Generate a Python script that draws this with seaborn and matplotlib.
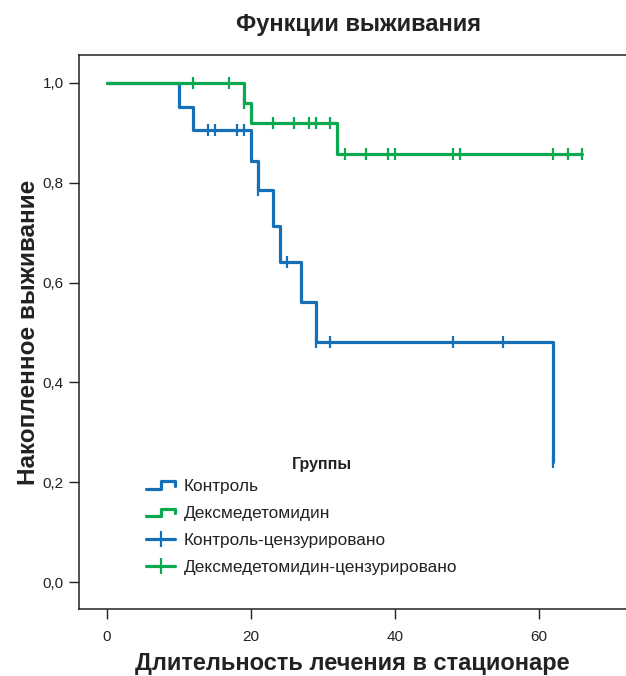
import numpy as np
import pandas as pd
import matplotlib
matplotlib.use("Agg")
import matplotlib.pyplot as plt
import seaborn as sns
from matplotlib.lines import Line2D
from matplotlib.legend_handler import HandlerBase
from matplotlib.ticker import FuncFormatter

# Kaplan-Meier step values
ctrl_time = [0, 10, 12, 20, 21, 23, 24, 27, 29, 62]
ctrl_surv = [1.0, 0.952, 0.905, 0.844, 0.786, 0.714, 0.641, 0.561, 0.480, 0.240]
ctrl_cens = [14, 15, 18, 19, 21, 25, 29, 31, 48, 55, 62]

dex_time = [0, 19, 20, 32]
dex_surv = [1.0, 0.959, 0.919, 0.857]
dex_cens = [12, 17, 19, 23, 26, 28, 29, 31, 33, 36, 39, 40, 48, 49, 62, 64, 66]

groups = ["Контроль", "Дексмедетомидин"]
colors = {"Контроль": "#1570b8", "Дексмедетомидин": "#0aa84f"}


def step_value(times, surv, t):
    idx = np.searchsorted(times, t, side="right") - 1
    return surv[idx]


# build long tables for seaborn
line_rows, cens_rows = [], []
for g, tt, ss, cc in [(groups[0], ctrl_time, ctrl_surv, ctrl_cens),
                      (groups[1], dex_time, dex_surv, dex_cens)]:
    for t, s in zip(tt, ss):
        line_rows.append((g, t, s))
    if max(cc) > tt[-1]:
        line_rows.append((g, max(cc), ss[-1]))
    for t in cc:
        cens_rows.append((g, t, step_value(tt, ss, t)))
lines_df = pd.DataFrame(line_rows, columns=["group", "time", "surv"])
cens_df = pd.DataFrame(cens_rows, columns=["group", "time", "surv"])

sns.set_style("ticks")
plt.rcParams["font.family"] = ["Liberation Sans", "DejaVu Sans"]

fig = plt.figure(figsize=(6.26, 6.76), dpi=100)
ax = fig.add_axes([79 / 626, 1 - 609 / 676, 1 - 79 / 626, (609 - 55) / 676])

sns.lineplot(data=lines_df, x="time", y="surv", hue="group", palette=colors,
             drawstyle="steps-post", estimator=None, sort=False,
             linewidth=2.3, legend=False, ax=ax)
for g in groups:
    sub = cens_df[cens_df["group"] == g]
    ax.plot(sub["time"], sub["surv"], linestyle="none", marker="|",
            markersize=9, markeredgewidth=1.6, color=colors[g])

ax.set_xlim(-3.9, 72.1)
ax.set_ylim(-0.054, 1.056)
ax.set_xticks([0, 20, 40, 60])
ax.set_yticks([0, 0.2, 0.4, 0.6, 0.8, 1.0])
ax.yaxis.set_major_formatter(FuncFormatter(lambda v, p: f"{v:.1f}".replace(".", ",")))
ax.tick_params(length=7, width=1, labelsize=11, colors="#222222")
ax.tick_params(axis="x", pad=8)
ax.tick_params(axis="y", pad=4)
for side in ["left", "bottom", "top"]:
    ax.spines[side].set_linewidth(1.1)
    ax.spines[side].set_color("#222222")
ax.spines["right"].set_visible(False)

ax.set_xlabel("Длительность лечения в стационаре", fontsize=17, fontweight="bold",
              labelpad=6, color="#222222")
ax.set_ylabel("Накопленное выживание", fontsize=17.5, fontweight="bold",
              labelpad=2, color="#222222")
fig.text(359 / 626, 1 - 24 / 676, "Функции выживания", fontsize=17,
         fontweight="bold", ha="center", va="center", color="#222222")


class StepHandler(HandlerBase):
    def create_artists(self, legend, orig, xd, yd, width, height, fontsize, trans):
        x0, x1 = -xd, -xd + width
        lo, hi = -yd + height * 0.2, -yd + height * 0.8
        xs = [x0, x0 + width * 0.5, x0 + width * 0.5, x1, x1]
        ys = [lo, lo, hi, hi, lo + (hi - lo) * 0.4]
        ln = Line2D(xs, ys, color=orig.get_color(), linewidth=2.3, transform=trans)
        return [ln]


handles = [Line2D([], [], color=colors[groups[0]]),
           Line2D([], [], color=colors[groups[1]]),
           Line2D([], [], color=colors[groups[0]], marker="|", markersize=12,
                  markeredgewidth=1.6, linewidth=2.3),
           Line2D([], [], color=colors[groups[1]], marker="|", markersize=12,
                  markeredgewidth=1.6, linewidth=2.3)]
labels = ["Контроль", "Дексмедетомидин", "Контроль-цензурировано",
          "Дексмедетомидин-цензурировано"]
leg = fig.legend(handles, labels, loc="upper left",
                 bbox_to_anchor=(146 / 626, 1 - 479 / 676), frameon=False,
                 fontsize=12.4, handlelength=1.7, handletextpad=0.5,
                 labelspacing=0.7, borderpad=0, borderaxespad=0,
                 handler_map={handles[0]: StepHandler(), handles[1]: StepHandler()})
for t in leg.get_texts():
    t.set_color("#222222")
fig.text(322 / 626, 1 - 464 / 676, "Группы", fontsize=11.5, fontweight="bold",
         ha="center", va="center", color="#222222")

fig.savefig("out.png", dpi=100)
